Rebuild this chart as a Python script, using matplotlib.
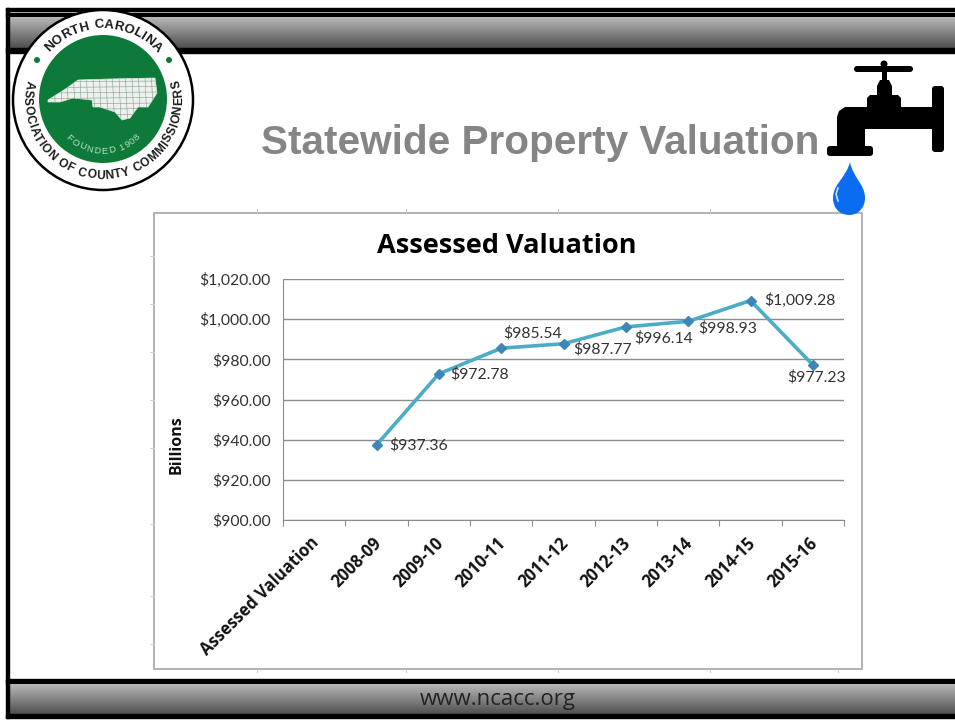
import numpy as np
import matplotlib
matplotlib.use("Agg")
import matplotlib.pyplot as plt
from matplotlib.patches import Circle, Rectangle, Polygon, FancyBboxPatch, PathPatch
from matplotlib.path import Path
from matplotlib.textpath import TextToPath
from matplotlib.font_manager import FontProperties

categories = ["Assessed Valuation", "2008-09", "2009-10", "2010-11", "2011-12",
              "2012-13", "2013-14", "2014-15", "2015-16"]
years = categories[1:]
values = [937.36, 972.78, 985.54, 987.77, 996.14, 998.93, 1009.28, 977.23]
labels = ["$937.36", "$972.78", "$985.54", "$987.77", "$996.14", "$998.93", "$1,009.28", "$977.23"]
yticks = [900, 920, 940, 960, 980, 1000, 1020]
label_off_px = [(42, 0), (41, 0), (31, 15), (39, -6), (38, -11), (40, -7), (49, 0), (4, -12)]

W, H = 955, 721
FONT = ["Lato", "DejaVu Sans"]
BOLD = ["Open Sans", "DejaVu Sans"]
fig = plt.figure(figsize=(W / 100, H / 100), dpi=100, facecolor="white")

bg = fig.add_axes([0, 0, 1, 1], zorder=0)
bg.set_xlim(0, W); bg.set_ylim(H, 0); bg.axis("off")

def band(y0, y1):
    g = np.linspace(0.72, 0.30, 64).reshape(-1, 1)
    bg.imshow(g, extent=(8, W, y1, y0), cmap="gray", vmin=0, vmax=1, aspect="auto", zorder=1)

bg.add_patch(Rectangle((6, 8), W, 2.5, color="black", zorder=1))
bg.add_patch(Rectangle((6, 13), W, 4, color="black", zorder=1))
band(17, 49)
bg.add_patch(Rectangle((6, 48), W, 5, color="black", zorder=1))
bg.add_patch(Rectangle((6, 679), W, 5, color="black", zorder=1))
band(684, 715)
bg.add_patch(Rectangle((6, 714), W, 4, color="black", zorder=1))
bg.add_patch(Rectangle((6, 8), 2.5, 710, color="black", zorder=1))
bg.set_xlim(0, W); bg.set_ylim(H, 0)

bg.text(498, 699, "www.ncacc.org", fontsize=16, color="#222222", ha="center", va="center",
        family=["Open Sans", "DejaVu Sans"], zorder=3)
bg.text(540, 143, "Statewide Property Valuation", fontsize=29.2, fontweight="bold", color="#858585",
        ha="center", va="center", family=["Liberation Sans"], zorder=3)

# chart panel
bg.add_patch(Rectangle((154, 213), 708, 456, fc="white", ec="#a6a6a6", lw=1.2, zorder=2))
for x in [257, 406, 558, 710, 838]:
    bg.plot([x, x], [209, 213], color="#c4c4c4", lw=0.7, zorder=2)
    bg.plot([x, x], [669, 672], color="#d0d0d0", lw=0.7, zorder=2)
for y in [256, 304, 352, 400, 448, 524, 596, 644]:
    bg.plot([150, 154], [y, y], color="#d0d0d0", lw=0.7, zorder=2)

# logo
cx, cy = 103, 100
bg.add_patch(Circle((cx, cy), 90, fc="white", ec="black", lw=1.8, zorder=4))
bg.add_patch(Circle((cx, cy - 1), 64, fc="#0e7a3a", ec="none", zorder=4))
for dx in [-66, 66]:
    bg.add_patch(Circle((cx + dx, cy - 40), 3, fc="#0e7a3a", ec="none", zorder=5))

ttp = TextToPath()

def arc_text(s, a_mid, r, size, top=True, color="#1a1a1a", weight="bold", extra=1.0):
    """Place characters along a circle with their natural advance widths."""
    fp = FontProperties(family="Liberation Sans", weight=weight, size=size)
    ws = [ttp.get_text_width_height_descent(c if c != " " else "n", fp, False)[0] * (0.6 if c == " " else 1) for c in s]
    ws = np.array(ws) * 100 / 72 * extra
    total = ws.sum()
    pos = np.cumsum(ws) - ws / 2 - total / 2
    for ch, p in zip(s, pos):
        da = np.degrees(p / r)
        a = a_mid + da if top else a_mid - da
        t = np.radians(a)
        x = cx + r * np.sin(t)
        y = cy - r * np.cos(t)
        rot = -a if top else 180 - a
        bg.text(x, y, ch, fontsize=size, rotation=rot, rotation_mode="anchor", ha="center", va="center",
                family=["Liberation Sans"], fontweight=weight, color=color, zorder=6)

arc_text("NORTH CAROLINA", 0, 75, 9.5, extra=1.05)
arc_text("ASSOCIATION OF COUNTY COMMISSIONERS", 180, 76, 8.6, top=False, extra=1.05)
arc_text("FOUNDED 1908", 180, 51, 6.8, top=False, color="#b5e0bc", weight="normal", extra=1.15)

nc = np.array([[48, 100], [56, 95], [67, 88], [78, 80], [110, 79], [155, 78], [157, 93], [148, 107], [138, 107],
               [130, 118], [122, 120], [115, 112], [100, 107], [93, 107], [92, 100], [73, 98], [60, 102], [48, 102]])
bg.add_patch(Polygon(nc, closed=True, fc="#eef1ee", ec="#dfe7df", lw=0.5, zorder=5))
clip = Polygon(nc, closed=True, transform=bg.transData)
for gx in np.arange(54, 157, 6.5):
    bg.plot([gx, gx + 2], [78, 120], color="#7f9f8a", lw=0.4, zorder=6, clip_path=clip)
for gy in np.arange(82, 120, 5.5):
    bg.plot([47, 157], [gy, gy - 1], color="#7f9f8a", lw=0.4, zorder=6, clip_path=clip)

# tap
K = "black"
bg.add_patch(FancyBboxPatch((854, 66), 59, 6, boxstyle="round,pad=0,rounding_size=3", fc=K, ec=K, lw=0, zorder=5))
bg.add_patch(Rectangle((882, 62), 5, 22, fc=K, ec=K, lw=0, zorder=5))
bg.add_patch(Circle((884, 64), 3.5, fc=K, ec="none", zorder=5))
bg.add_patch(Polygon([(877, 108), (877, 86), (880, 80), (889, 80), (892, 86), (892, 108)], fc=K, ec=K, lw=0, zorder=5))
bg.add_patch(Polygon([(867, 108), (867, 98), (870, 95), (898, 95), (901, 98), (901, 108)], fc=K, ec=K, lw=0, zorder=5))
bg.add_patch(Polygon([(837, 148), (837, 117), (839, 111), (845, 107), (935, 107), (935, 129), (865, 129), (865, 148)],
                     fc=K, ec=K, lw=0, zorder=5))
bg.add_patch(FancyBboxPatch((827, 146), 46, 10, boxstyle="round,pad=0,rounding_size=3", fc=K, ec=K, lw=0, zorder=5))
bg.add_patch(FancyBboxPatch((932, 86), 12, 66, boxstyle="round,pad=0,rounding_size=3", fc=K, ec=K, lw=0, zorder=5))
drop = Path([(850, 162), (846, 178), (833, 184), (833, 198), (833, 210), (842, 215), (849, 215),
             (858, 215), (865, 208), (865, 198), (865, 184), (853, 178), (850, 162)],
            [Path.MOVETO] + [Path.CURVE4] * 12)
bg.add_patch(PathPatch(drop, fc="#0a6cf0", ec="none", zorder=5))
bg.plot([838, 836, 838], [188, 194, 201], color="#cfe2ff", lw=1.2, zorder=6)

# chart
ax = fig.add_axes([283 / W, 1 - 520 / H, (844 - 283) / W, (520 - 279) / H], zorder=3)
ax.patch.set_alpha(0)
xs = np.arange(len(categories))
ax.set_xlim(-0.5, len(categories) - 0.5)
ax.set_ylim(900, 1020)
ax.set_yticks(yticks)
ax.set_yticklabels([f"${v:,.2f}" for v in yticks], fontsize=11.3, color="#333333", family=FONT)
ax.set_xticks(np.arange(len(categories) + 1) - 0.5, minor=False)
ax.set_xticklabels([])
ax.grid(axis="y", color="#8c8c8c", lw=1.0)
ax.set_axisbelow(True)
for s in ["top", "right"]:
    ax.spines[s].set_visible(False)
for s in ["left", "bottom"]:
    ax.spines[s].set_color("#8c8c8c")
ax.tick_params(axis="x", length=4, color="#8c8c8c", direction="out")
ax.tick_params(axis="y", length=0, pad=9)

line_x = xs[1:]
ax.plot(line_x, values, color="#4bacc6", lw=2.6, marker="D", ms=5.5, mfc="#3f86b8", mec="#3f86b8",
        zorder=4, clip_on=False)
for x, v, lab, off in zip(line_x, values, labels, label_off_px):
    ax.annotate(lab, (x, v), xytext=(off[0] * 0.72, off[1] * 0.72), textcoords="offset points",
                fontsize=11.3, color="#333333", ha="center", va="center", family=FONT, zorder=5)

for x, c in zip(xs, categories):
    ax.annotate(c, (x, 900), xytext=(-3, -10), textcoords="offset points", fontsize=12, fontweight="bold",
                color="#111111", rotation=45, rotation_mode="anchor", ha="right", va="top", family=BOLD,
                annotation_clip=False)

bg.text(177, 445, "Billions", fontsize=11.5, fontweight="bold", rotation=90, ha="center", va="center",
        family=BOLD, color="#111111", zorder=4)
bg.text(507, 246, "Assessed Valuation", fontsize=19.5, fontweight="bold", ha="center", va="center",
        family=BOLD, color="black", zorder=4)

fig.savefig("out.png", dpi=100)
